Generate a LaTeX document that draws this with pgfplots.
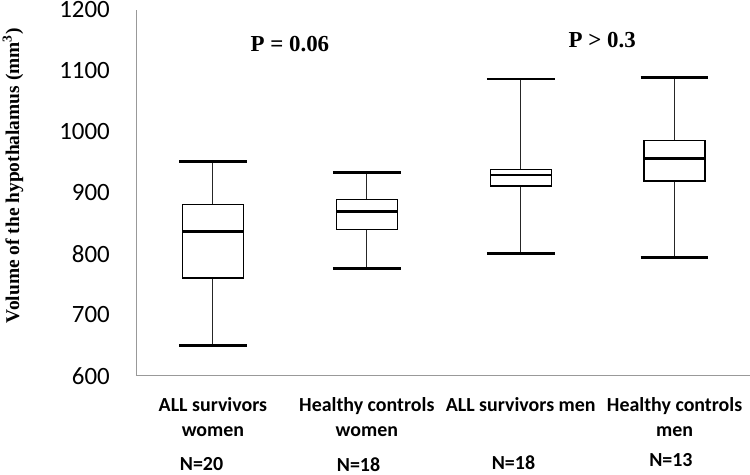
\documentclass[border=0pt]{standalone}
\usepackage{fontspec}
\setmainfont{Carlito}
\newfontfamily\timesfont{Liberation Serif}
\usepackage{pgfplots}
\pgfplotsset{compat=1.18}

\pgfplotsset{
  stem/.style={line width=1.1bp, black!85},
  cap/.style={line width=2.8bp, black},
  boxbody/.style={draw=black, fill=white, line width=1.3bp, line join=miter},
  medline/.style={line width=2.7bp, black},
}

\begin{document}
\begin{tikzpicture}
\begin{axis}[
  scale only axis,
  width=614bp, height=366.2bp,
  xmin=0.5, xmax=4.49,
  ymin=600, ymax=1200,
  ytick={600,700,...,1200},
  xtick={1,2,3,4},
  xticklabels={ALL survivors\\women, Healthy controls\\women, ALL survivors men, Healthy controls\\men},
  axis x line*=bottom, axis y line*=left,
  axis line style={draw=black!40, line width=0.9bp, -},
  major tick length=0pt,
  /pgf/number format/assume math mode=true,
  /pgf/number format/1000 sep={},
  yticklabel style={font=\fontsize{25}{30}\selectfont, anchor=east, inner sep=0pt, xshift=-26bp},
  xticklabel style={font=\fontsize{20}{25}\selectfont\bfseries, align=center, anchor=north, inner sep=0pt, yshift=-22bp},
  clip=false,
]
\coordinate (O) at (rel axis cs:0,0);

% ALL survivors women: 650 / 760 / 836 / 880 / 951
\addplot[stem] coordinates {(1,650)(1,760)};
\addplot[stem] coordinates {(1,880)(1,951)};
\addplot[boxbody] coordinates {(0.802,760)(1.198,760)(1.198,880)(0.802,880)} -- cycle;
\addplot[medline] coordinates {(0.802,836)(1.198,836)};
\addplot[cap] coordinates {(0.78,650)(1.22,650)};
\addplot[cap] coordinates {(0.78,951)(1.22,951)};

% Healthy controls women: 776 / 839 / 869 / 889 / 933
\addplot[stem] coordinates {(2,776)(2,839)};
\addplot[stem] coordinates {(2,889)(2,933)};
\addplot[boxbody] coordinates {(1.802,839)(2.198,839)(2.198,889)(1.802,889)} -- cycle;
\addplot[medline] coordinates {(1.802,869)(2.198,869)};
\addplot[cap] coordinates {(1.78,776)(2.22,776)};
\addplot[cap] coordinates {(1.78,933)(2.22,933)};

% ALL survivors men: 800 / 911 / 929 / 938 / 1086
\addplot[stem] coordinates {(3,800)(3,911)};
\addplot[stem] coordinates {(3,938)(3,1086)};
\addplot[boxbody] coordinates {(2.802,911)(3.198,911)(3.198,938)(2.802,938)} -- cycle;
\addplot[medline] coordinates {(2.802,929)(3.198,929)};
\addplot[cap] coordinates {(2.78,800)(3.22,800)};
\addplot[cap] coordinates {(2.78,1086)(3.22,1086)};

% Healthy controls men: 794 / 919 / 956 / 985 / 1088
\addplot[stem] coordinates {(4,794)(4,919)};
\addplot[stem] coordinates {(4,985)(4,1088)};
\addplot[boxbody] coordinates {(3.802,919)(4.198,919)(4.198,985)(3.802,985)} -- cycle;
\addplot[medline] coordinates {(3.802,956)(4.198,956)};
\addplot[cap] coordinates {(3.78,794)(4.22,794)};
\addplot[cap] coordinates {(3.78,1088)(4.22,1088)};

\node[font=\timesfont\bfseries\fontsize{23}{27}\selectfont] at (axis cs:1.5,1144) {P = 0.06};
\node[font=\timesfont\bfseries\fontsize{23}{27}\selectfont] at (axis cs:3.53,1150) {P > 0.3};

\node[anchor=base, font=\fontsize{20}{24}\selectfont\bfseries, yshift=-95bp] at (axis cs:0.926,600) {N=20};
\node[anchor=base, font=\fontsize{20}{24}\selectfont\bfseries, yshift=-95.5bp] at (axis cs:1.946,600) {N=18};
\node[anchor=base, font=\fontsize{20}{24}\selectfont\bfseries, yshift=-94bp] at (axis cs:2.953,600) {N=18};
\node[anchor=base, font=\fontsize{20}{24}\selectfont\bfseries, yshift=-90.5bp] at (axis cs:3.976,600) {N=13};
\end{axis}

\node[rotate=90, inner sep=0pt, font=\timesfont\bfseries\fontsize{19.5}{23}\selectfont]
  at ([shift={(-123bp,200bp)}]O) {Volume of the hypothalamus (mm\textsuperscript{3})};

\pgfresetboundingbox
\path[use as bounding box] ([shift={(-136bp,-99.3bp)}]O) rectangle ([shift={(614bp,375.7bp)}]O);
\end{tikzpicture}
\end{document}
